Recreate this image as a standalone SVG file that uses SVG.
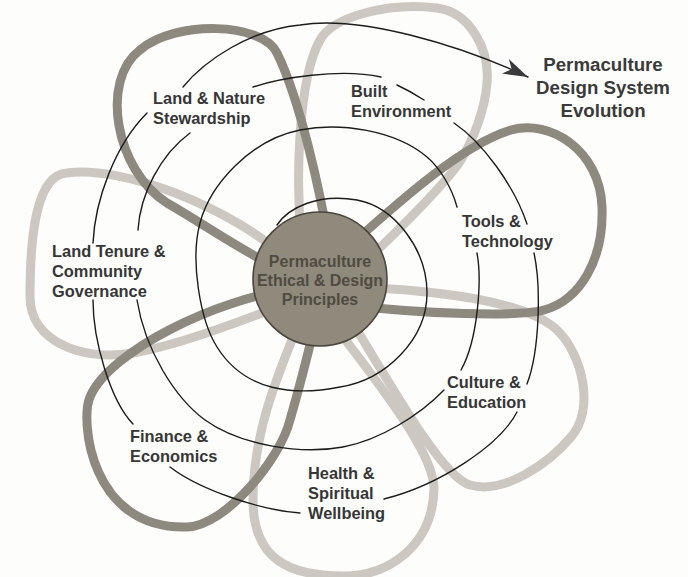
<svg xmlns="http://www.w3.org/2000/svg" width="688" height="577" viewBox="0 0 688 577">
<style>
.band{fill:none;stroke-width:9;stroke-linecap:round}
.dk{stroke:#8d897f}
.lt{stroke:#ccc8c1}
.sp{fill:none;stroke:#1c1c1c;stroke-width:1.4;stroke-linecap:round}
.lbl{font-family:"Liberation Sans",Arial,sans-serif;font-weight:bold;font-size:16.4px;fill:#363636}
.ttl{font-family:"Liberation Sans",Arial,sans-serif;font-weight:bold;font-size:18.7px;fill:#3a3a3a;text-anchor:middle}
.ctr{font-family:"Liberation Sans",Arial,sans-serif;font-weight:bold;font-size:16px;fill:#4f4b41;text-anchor:middle}
</style>
<defs>
<marker id="ah" markerUnits="userSpaceOnUse" markerWidth="30" markerHeight="20" viewBox="-26 -10 30 20" refX="0" refY="0" orient="auto">
<path d="M0,0 L-25,-8 L-18,0 L-25,8 Z" fill="#3a393c"/>
</marker>
</defs>
<rect width="688" height="577" fill="#fdfdfc"/>
<g id="petals">
<path id="petal-land-tenure" class="band lt" d="M295,265 C230,205 120,165 67,173 C35,175 30,240 30,297 C30,340 80,362 133,353 C180,345 250,318 295,300"/>
<path id="petal-health" class="band lt" d="M300,320 C280,370 253,430 253,500 C253,560 290,576 343,576 C390,576 432,545 434,490 C435,460 400,410 330,320"/>
<path id="petal-culture" class="band lt" d="M355,287 C430,290 525,300 557,330 C583,355 595,410 571,437 C550,462 505,495 470,485 C445,478 405,410 345,310"/>
<path id="petal-built" class="band lt" d="M302,250 C295,180 298,80 320,40 C333,16 390,2 437,8 C470,12 490,50 487,83 C485,110 473,140 461,160 C449,180 390,240 350,275"/>
<path id="petal-land-nature" class="band dk" d="M330,250 C320,190 300,100 277,53 C262,22 175,20 140,50 C100,80 115,170 167,203 C207,226 240,250 290,275"/>
<path id="petal-tools" class="band dk" d="M345,250 C390,210 460,145 511,130 C550,119 600,150 602,207 C604,260 580,300 544,310 C520,317 420,314 350,305"/>
<path id="petal-finance" class="band dk" d="M290,290 C220,298 110,350 90,397 C80,420 90,530 187,527 C225,526 280,460 290,420 C300,385 312,340 320,300"/>
</g>
<g id="center">
<circle cx="320" cy="279" r="67" fill="#8f8a7c" stroke="#4a463e" stroke-width="1.6"/>
<text class="ctr" x="320" y="267">Permaculture</text>
<text class="ctr" x="320" y="286">Ethical &amp; Design</text>
<text class="ctr" x="320" y="305">Principles</text>
</g>
<g id="connectors">
<path class="sp" d="M277,225 C288,208 318,193 357,200 C395,207 427,250 427,293 C427,340 385,380 340,387 C295,396 245,392 217,347 C200,320 190,260 200,223 C210,185 250,140 300,130 C340,122 395,130 427,157 C440,168 452,188 457,207"/>
<path class="sp" d="M477,253 C482,280 478,340 461,370"/>
<path class="sp" d="M444,390 C420,415 380,440 343,447 C300,455 240,445 205,420 C175,398 145,350 137,300"/>
<path class="sp" d="M138,230 C140,195 160,155 190,133"/>
<path class="sp" d="M253,87 C280,78 340,68 381,77"/>
<path class="sp" d="M397,85 Q410,91 424,100"/>
<path class="sp" d="M454,123 C482,142 514,185 527,224"/>
<path class="sp" d="M534,253 C541,285 540,350 527,384"/>
<path class="sp" d="M517,412 C500,445 440,485 384,499"/>
<path class="sp" d="M300,513 C260,510 200,490 170,467"/>
<path class="sp" d="M133,424 C110,400 93,340 93,300"/>
<path class="sp" d="M93,243 C95,200 115,145 147,113"/>
<path class="sp" d="M183,87 C205,60 250,30 300,25 C360,15 460,45 528,77" marker-end="url(#ah)"/>
</g>
<g id="label-land-nature"><text class="lbl" x="153" y="104">Land &amp; Nature</text><text class="lbl" x="153" y="124">Stewardship</text></g>
<g id="label-built"><text class="lbl" x="351" y="97">Built</text><text class="lbl" x="351" y="117">Environment</text></g>
<g id="label-tools"><text class="lbl" x="462" y="227">Tools &amp;</text><text class="lbl" x="462" y="247">Technology</text></g>
<g id="label-culture"><text class="lbl" x="447" y="388">Culture &amp;</text><text class="lbl" x="447" y="408">Education</text></g>
<g id="label-health"><text class="lbl" x="308" y="479">Health &amp;</text><text class="lbl" x="308" y="499">Spiritual</text><text class="lbl" x="308" y="519">Wellbeing</text></g>
<g id="label-finance"><text class="lbl" x="130" y="442">Finance &amp;</text><text class="lbl" x="130" y="462">Economics</text></g>
<g id="label-land-tenure"><text class="lbl" x="52" y="257">Land Tenure &amp;</text><text class="lbl" x="52" y="277">Community</text><text class="lbl" x="52" y="297">Governance</text></g>
<g id="title"><text class="ttl" x="603" y="71">Permaculture</text><text class="ttl" x="603" y="94">Design System</text><text class="ttl" x="603" y="117">Evolution</text></g>
</svg>
